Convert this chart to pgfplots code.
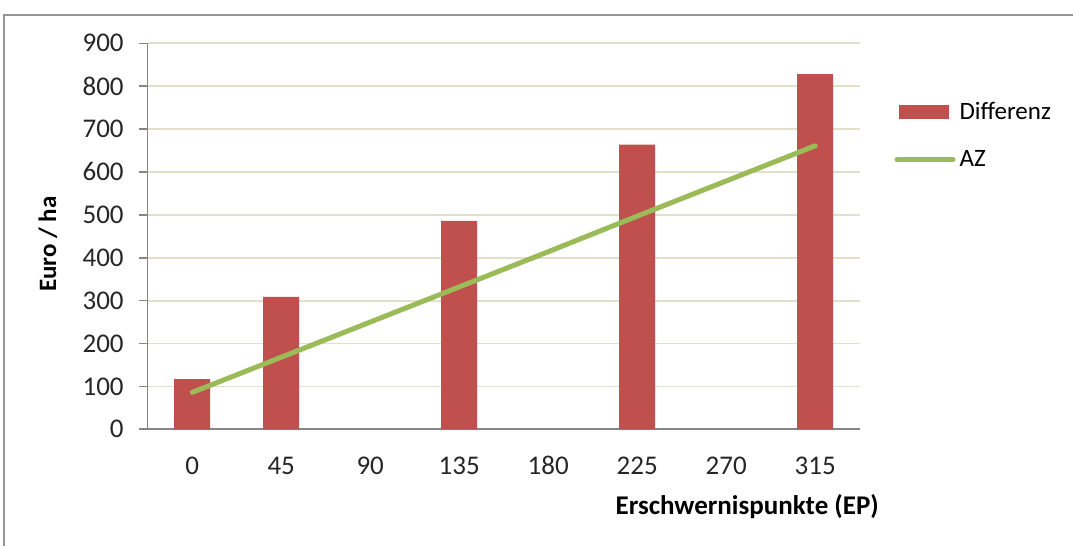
\documentclass[border=0pt]{standalone}
\usepackage{pgfplots}
\pgfplotsset{compat=1.18}
\usepackage{fontspec}
\setmainfont{Carlito}
\definecolor{barred}{RGB}{192,80,77}
\definecolor{azgreen}{RGB}{155,187,89}
\definecolor{gridc}{RGB}{226,223,203}
\definecolor{axisc}{RGB}{134,134,134}
\definecolor{framec}{RGB}{150,150,150}
\begin{document}
\begin{tikzpicture}
\useasboundingbox (0,0) rectangle (536.5pt,273pt);
\draw[framec, line width=1pt] (2pt,0) -- (2pt,265.5pt) -- (536.5pt,265.5pt);
\begin{axis}[
  at={(73.85pt,58.35pt)}, anchor=south west,
  scale only axis, width=356pt, height=193pt,
  xmin=-0.5, xmax=7.5, ymin=0, ymax=900,
  axis x line*=bottom, axis y line*=left,
  axis line style={axisc, line width=0.8pt},
  xtick={0,...,7},
  xticklabels={0,45,90,135,180,225,270,315},
  minor xtick={-0.5,0.5,...,7.5},
  x tick style={draw=none},
  minor x tick style={axisc, line width=0.8pt},
  minor tick length=4pt,
  ytick={0,100,...,900},
  y tick style={axisc, line width=0.8pt},
  major tick length=4.5pt,
  tick align=outside,
  ymajorgrids,
  major grid style={gridc, line width=0.9pt},
  /pgf/number format/assume math mode=true,
  tick label style={font=\fontsize{13.5}{16}\selectfont, black!85},
  xticklabel style={yshift=-5.5pt, text height=9pt, text depth=0pt, anchor=north},
  yticklabel style={xshift=-4pt},
  xlabel={\textbf{Erschwernispunkte (EP)}},
  xlabel style={font=\fontsize{13.5}{16}\selectfont, at={(axis description cs:0.842,-0.201)}, anchor=center},
  ylabel={\textbf{Euro / ha}},
  ylabel style={font=\fontsize{12.5}{15}\selectfont, at={(axis description cs:-0.14,0.48)}, anchor=center},
  legend style={at={(axis description cs:1.04,0.87)}, anchor=north west, draw=none, fill=none,
    font=\fontsize{12.5}{15}\selectfont, row sep=10pt, cells={anchor=west}},
  clip=false,
]
\addplot[ybar, bar width=18pt, fill=barred, draw=none,
  legend image code/.code={\fill[barred] (0pt,-3.5pt) rectangle (25pt,3.5pt);}]
  coordinates {(0,117) (1,309) (3,486) (5,664) (7,828)};
\addlegendentry{Differenz}
\addplot[azgreen, line width=2.5pt, line cap=round,
  legend image code/.code={\draw[azgreen, line width=2.5pt, line cap=round] (-1pt,0) -- (27pt,0);}]
  coordinates {(0,86) (1,168) (2,250) (3,332) (4,414) (5,497) (6,579) (7,661)};
\addlegendentry{AZ}
\end{axis}
\end{tikzpicture}
\end{document}
